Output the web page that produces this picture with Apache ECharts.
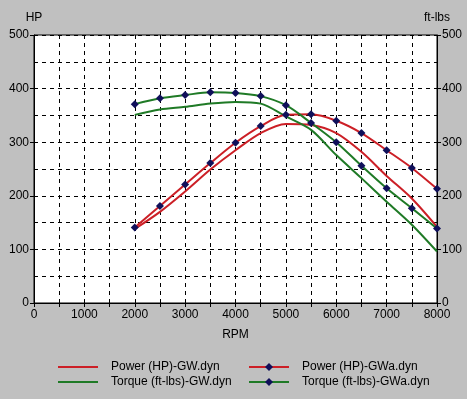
<!DOCTYPE html>
<html>
<head>
<meta charset="utf-8">
<script src="https://cdn.jsdelivr.net/npm/echarts@6/dist/echarts.min.js"></script>
<style>
  html, body { margin: 0; padding: 0; background: #c0c0c0; }
  #chart { width: 467px; height: 399px; }
</style>
</head>
<body>
<div id="chart"></div>
<script>
var rpm = [2000, 2500, 3000, 3500, 4000, 4500, 5000, 5500, 6000, 6500, 7000, 7500, 8000];
var powerGW = [138, 170, 208, 249, 285, 317, 334, 332, 317, 282, 237, 195, 142];
var torqueGW = [351, 361, 366, 372, 375, 372, 348, 323, 276, 233, 189, 146, 96];
var powerGWa = [141, 181, 221, 261, 299, 330, 351, 352, 340, 317, 285, 252, 213];
var torqueGWa = [371, 382, 388, 393, 392, 386, 369, 336, 300, 256, 214, 177, 139];

var red = '#cc1f26';
var green = '#1f7a26';
var navy = '#10105a';
var font = 'Liberation Sans';

function pairs(ys) {
    var res = [];
    for (var i = 0; i < rpm.length; i++) {
        res.push([rpm[i], ys[i]]);
    }
    return res;
}

var myChart = echarts.init(document.getElementById('chart'));

var valueAxis = function(pos, name) {
    return {
        type: 'value',
        position: pos,
        min: 0,
        max: 500,
        interval: 100,
        name: name,
        nameLocation: 'end',
        nameGap: 11,
        nameTextStyle: { color: '#000', fontFamily: font, fontSize: 12 },
        axisLine: { show: true, lineStyle: { color: '#000', width: 1 } },
        axisTick: { show: true, length: 4, lineStyle: { color: '#000' } },
        axisLabel: { color: '#000', fontFamily: font, fontSize: 12, margin: 5 },
        splitLine: { show: pos === 'left', lineStyle: { color: '#000', type: [4, 4] } },
        minorTick: { show: false, splitNumber: 2 },
        minorSplitLine: { show: pos === 'left', lineStyle: { color: '#000', type: [4, 4] } }
    };
};

var legendBase = function(left, names, hideSymbol) {
    return {
        orient: 'vertical',
        left: left,
        top: 356,
        itemWidth: 40,
        itemHeight: 10,
        itemGap: 3,
        textStyle: { color: '#000', fontFamily: font, fontSize: 12, padding: [0, 0, 0, 8] },
        data: names.map(function(n) {
            return hideSymbol ? { name: n, itemStyle: { opacity: 0 } } : { name: n };
        })
    };
};

var option = {
    backgroundColor: '#c0c0c0',
    animation: false,
    grid: {
        left: 34, right: 30, top: 35, bottom: 96,
        show: true,
        backgroundColor: '#fff',
        borderColor: '#000',
        borderWidth: 1
    },
    legend: [
        legendBase(52, ['Power (HP)-GW.dyn', 'Torque (ft-lbs)-GW.dyn'], true),
        legendBase(243, ['Power (HP)-GWa.dyn', 'Torque (ft-lbs)-GWa.dyn'], false)
    ],
    xAxis: {
        type: 'value',
        min: 0,
        max: 8000,
        interval: 1000,
        name: 'RPM',
        nameLocation: 'middle',
        nameGap: 26,
        nameTextStyle: { color: '#000', fontFamily: font, fontSize: 12 },
        axisLine: { show: true, lineStyle: { color: '#000' } },
        axisTick: { show: true, length: 4, lineStyle: { color: '#000' } },
        axisLabel: {
            color: '#000', fontFamily: font, fontSize: 12, margin: 6,
            formatter: function(v) { return String(v); }
        },
        splitLine: { show: true, lineStyle: { color: '#000', type: [4, 4] } },
        minorTick: { show: true, splitNumber: 2, length: 4, lineStyle: { color: '#000' } },
        minorSplitLine: { show: true, lineStyle: { color: '#000', type: [4, 4] } }
    },
    yAxis: [valueAxis('left', 'HP'), valueAxis('right', 'ft-lbs')],
    series: [{
        name: 'Power (HP)-GW.dyn',
        type: 'line',
        yAxisIndex: 0,
        smooth: 0.3,
        symbol: 'none',
        lineStyle: { color: red, width: 2 },
        itemStyle: { color: red },
        data: pairs(powerGW)
    }, {
        name: 'Torque (ft-lbs)-GW.dyn',
        type: 'line',
        yAxisIndex: 1,
        smooth: 0.3,
        symbol: 'none',
        lineStyle: { color: green, width: 2 },
        itemStyle: { color: green },
        data: pairs(torqueGW)
    }, {
        name: 'Power (HP)-GWa.dyn',
        type: 'line',
        yAxisIndex: 0,
        smooth: 0.3,
        symbol: 'diamond',
        symbolSize: 8,
        lineStyle: { color: red, width: 2 },
        itemStyle: { color: navy },
        data: pairs(powerGWa)
    }, {
        name: 'Torque (ft-lbs)-GWa.dyn',
        type: 'line',
        yAxisIndex: 1,
        smooth: 0.3,
        symbol: 'diamond',
        symbolSize: 8,
        lineStyle: { color: green, width: 2 },
        itemStyle: { color: navy },
        data: pairs(torqueGWa)
    }]
};
myChart.setOption(option);
</script>
</body>
</html>
